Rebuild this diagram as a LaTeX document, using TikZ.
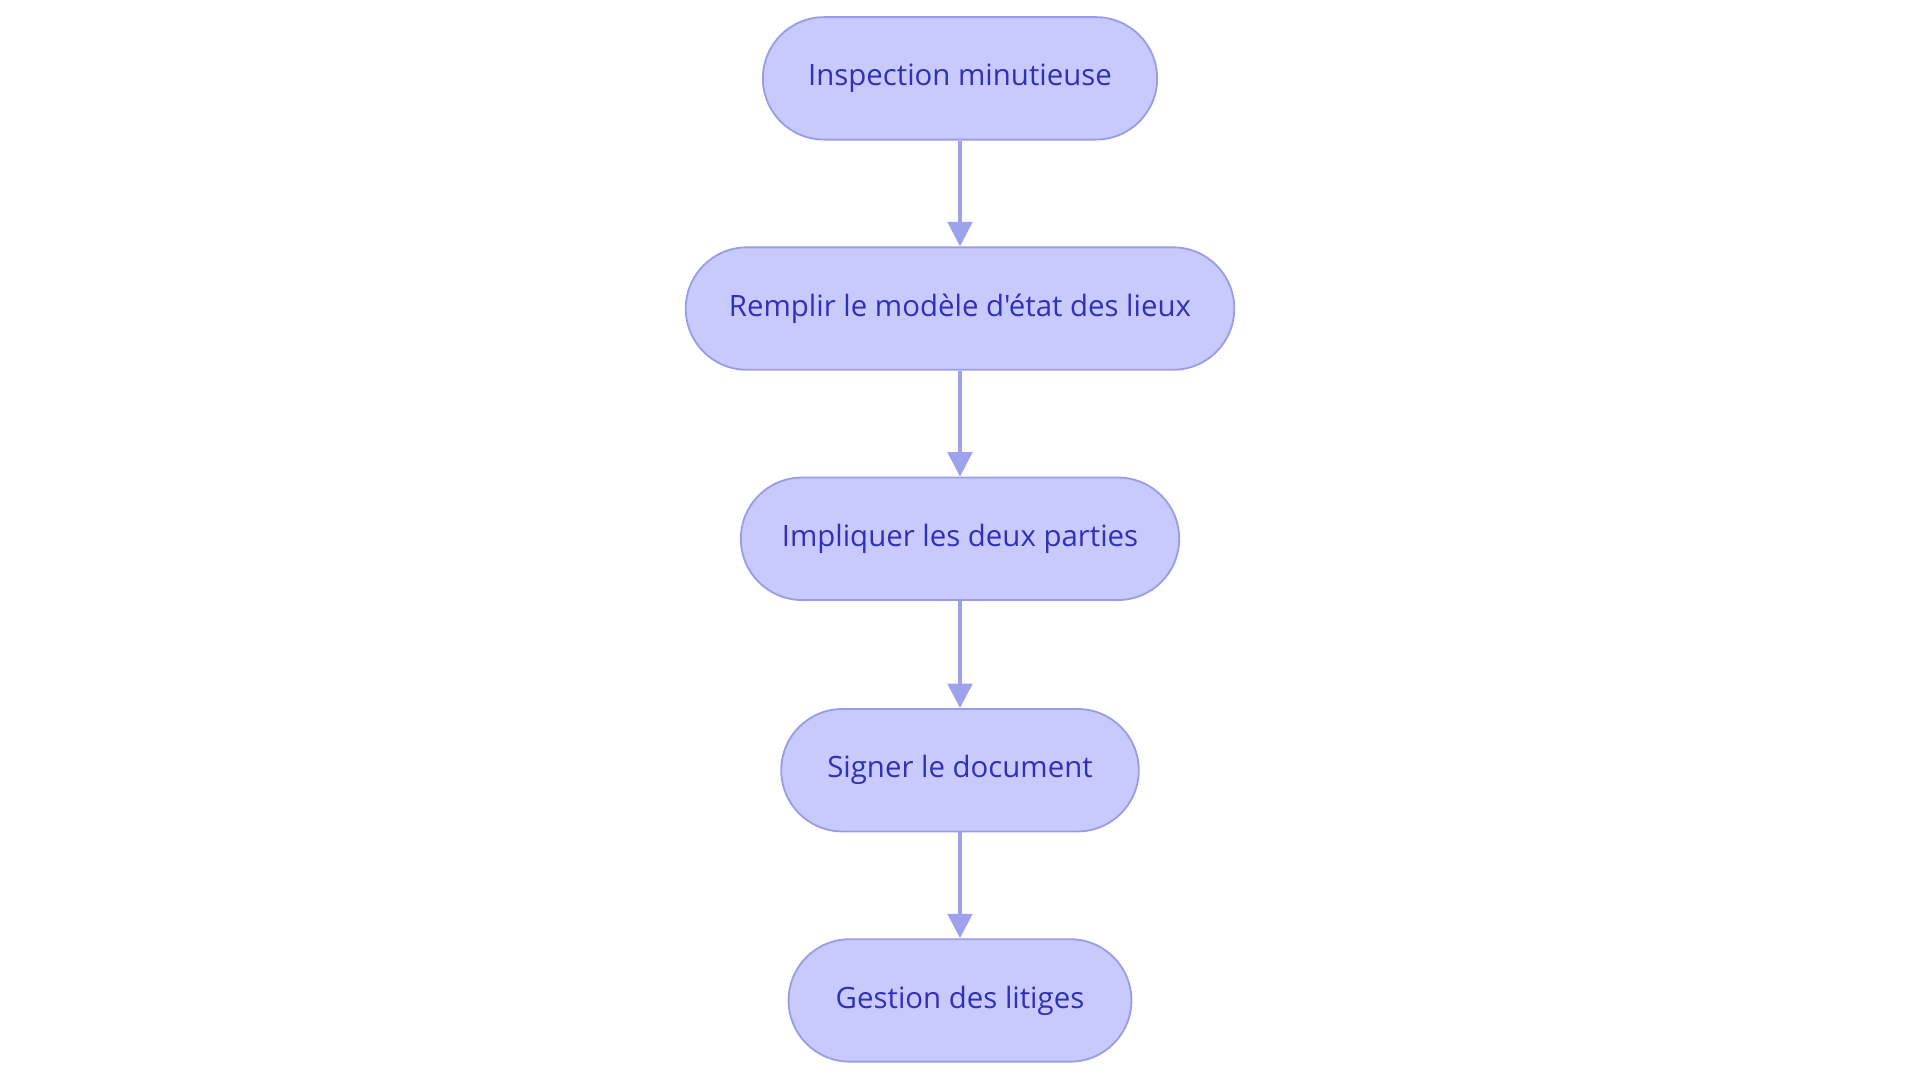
\documentclass[tikz,border=0pt]{standalone}
\usepackage{fontspec}
\setmainfont{Open Sans}[Ligatures=TeXOff]
\usetikzlibrary{arrows.meta}
\definecolor{boxfill}{HTML}{C8CAFE}
\definecolor{boxline}{HTML}{9A9DE6}
\definecolor{txt}{HTML}{3030B8}
\definecolor{arr}{HTML}{9EA1EC}
\tikzset{
  stepbox/.style={draw=boxline, line width=1.5pt, fill=boxfill, rounded corners=50pt,
    minimum height=100pt, inner sep=0pt, text=txt, font=\fontsize{24pt}{28pt}\selectfont},
  conn/.style={draw=arr, line width=3pt, -{Triangle[width=20pt,length=20pt]}}
}
\begin{document}
\begin{tikzpicture}[x=1pt,y=-1pt]
\useasboundingbox (0,0) rectangle (1568,884.5);
\node[stepbox, minimum width=322pt] (a) at (784,64) {Inspection minutieuse};
\node[stepbox, minimum width=448pt] (b) at (784,252) {Remplir le modèle d'état des lieux};
\node[stepbox, minimum width=358pt] (c) at (784,440) {Impliquer les deux parties};
\node[stepbox, minimum width=292pt] (d) at (784,629) {Signer le document};
\node[stepbox, minimum width=280pt] (e) at (784,817) {Gestion des litiges};
\draw[conn] (a) -- (b);
\draw[conn] (b) -- (c);
\draw[conn] (c) -- (d);
\draw[conn] (d) -- (e);
\end{tikzpicture}
\end{document}
